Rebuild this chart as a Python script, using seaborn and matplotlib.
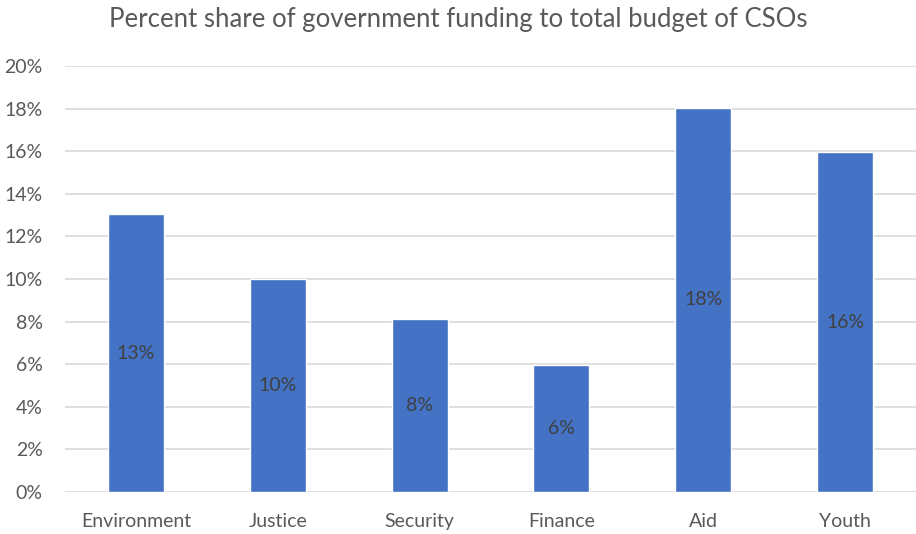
import matplotlib
matplotlib.use("Agg")
import matplotlib.pyplot as plt
import seaborn as sns
import pandas as pd

categories = ["Environment", "Justice", "Security", "Finance", "Aid", "Youth"]
values = [13.05, 10.0, 8.12, 5.96, 18.03, 15.96]
labels = ["13%", "10%", "8%", "6%", "18%", "16%"]
yticks = [0, 2, 4, 6, 8, 10, 12, 14, 16, 18, 20]
title = "Percent share of government funding to total budget of CSOs"

sns.set_theme(style="white")
plt.rcParams["font.family"] = ["Lato", "DejaVu Sans"]

df = pd.DataFrame({"category": categories, "value": values})

fig = plt.figure(figsize=(9.16, 5.34), dpi=100)
ax = fig.add_axes([65 / 916, 42 / 534, (916 - 65) / 916, (492 - 66) / 534])

sns.barplot(data=df, x="category", y="value", color="#4472C4", saturation=1,
            width=0.395, ax=ax, zorder=3)

ax.set_ylim(0, 20)
ax.set_xlim(-0.5, len(categories) - 0.5)
ax.set_yticks(yticks)
ax.set_yticklabels([f"{t}%" for t in yticks])
ax.grid(axis="y", color="#D9D9D9", linewidth=1.2, zorder=0)
for s in ax.spines.values():
    s.set_visible(False)
ax.tick_params(axis="both", length=0, colors="#595959", labelsize=14)
ax.tick_params(axis="y", pad=16)
ax.tick_params(axis="x", pad=15)
ax.set_xlabel("")
ax.set_ylabel("")

for container in ax.containers:
    ax.bar_label(container, labels=labels, label_type="center",
                 color="#404040", fontsize=14)

fig.text(0.5, 1 - 20 / 534, title, ha="center", va="center",
         fontsize=18.5, color="#595959")

fig.savefig("out.png", dpi=100)
